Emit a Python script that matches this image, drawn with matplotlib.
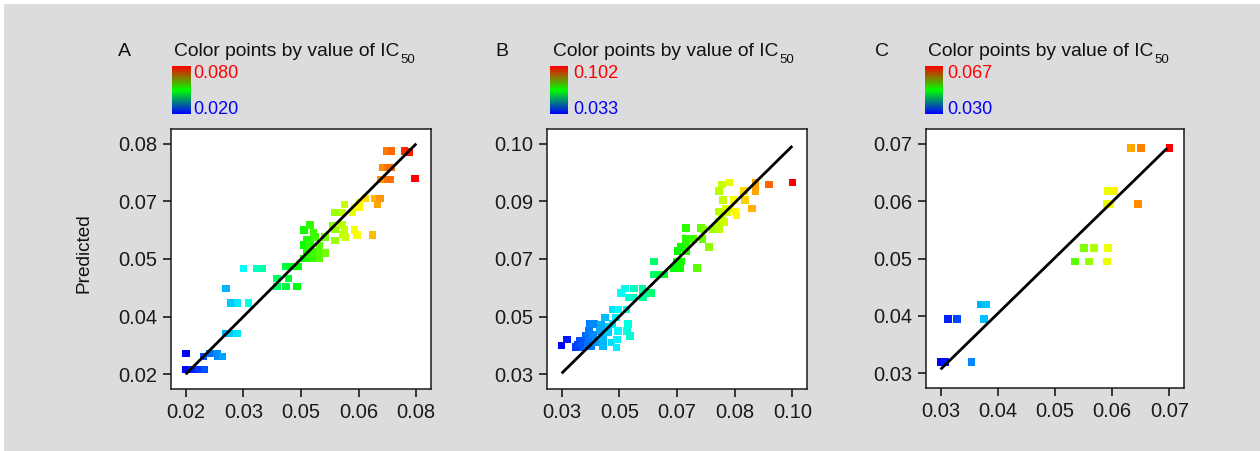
import colorsys
import numpy as np
import matplotlib
matplotlib.use("Agg")
import matplotlib.pyplot as plt
from matplotlib.colors import ListedColormap, LinearSegmentedColormap, Normalize
from matplotlib.patches import Rectangle

plt.rcParams['font.family'] = ['Liberation Sans', 'DejaVu Sans']

# ---------------- data ----------------
# Panel A
a_obs = [0.0201, 0.0199, 0.0216, 0.0234, 0.0249, 0.0246, 0.0263, 0.0281, 0.0283, 0.0296,
         0.0305, 0.0318, 0.0333, 0.0305, 0.0318, 0.0335, 0.0363, 0.0350, 0.0385, 0.0398,
         0.0438, 0.0467, 0.0438, 0.0461, 0.0490, 0.0461, 0.0476, 0.0492,
         0.0508, 0.0524, 0.0533, 0.0537, 0.0515, 0.0506, 0.0523, 0.0548, 0.0515, 0.0530,
         0.0548, 0.0564, 0.0506, 0.0522, 0.0530, 0.0548, 0.0563,
         0.0582, 0.0606, 0.0588, 0.0613, 0.0608, 0.0616, 0.0589, 0.0639, 0.0645, 0.0686,
         0.0589, 0.0613, 0.0608, 0.0634, 0.0639, 0.0652, 0.0652,
         0.0668, 0.0691, 0.0706, 0.0699,
         0.0707, 0.0727, 0.0731, 0.0714, 0.0727, 0.0734,
         0.0723, 0.0735, 0.0769, 0.0782, 0.0797]
a_pred = [0.0254, 0.0213, 0.0213, 0.0213, 0.0213, 0.0246, 0.0254, 0.0254, 0.0246, 0.0246,
          0.0306, 0.0306, 0.0306, 0.0423, 0.0386, 0.0386, 0.0386, 0.0475, 0.0475, 0.0475,
          0.0449, 0.0449, 0.0428, 0.0428, 0.0428, 0.0480, 0.0480, 0.0480,
          0.0575, 0.0588, 0.0569, 0.0558, 0.0549, 0.0536, 0.0538, 0.0534, 0.0518, 0.0518,
          0.0518, 0.0516, 0.0501, 0.0501, 0.0501, 0.0503, 0.0558,
          0.0586, 0.0588, 0.0577, 0.0575, 0.0564, 0.0558, 0.0548, 0.0575, 0.0563, 0.0563,
          0.0621, 0.0642, 0.0621, 0.0621, 0.0634, 0.0634, 0.0645,
          0.0657, 0.0657, 0.0657, 0.0642,
          0.0707, 0.0707, 0.0707, 0.0738, 0.0738, 0.0738,
          0.0781, 0.0781, 0.0781, 0.0779, 0.0709]

# Panel B
b_obs = [0.0300, 0.0316, 0.0343, 0.0355, 0.0365, 0.0373, 0.0383, 0.0385, 0.0398, 0.0383,
         0.0390, 0.0405, 0.0416, 0.0431, 0.0426, 0.0426, 0.0441, 0.0451, 0.0454, 0.0456,
         0.0471, 0.0464, 0.0466, 0.0471, 0.0468, 0.0497, 0.0502, 0.0499, 0.0507,
         0.0349, 0.0360, 0.0378, 0.0395, 0.0440, 0.0420,
         0.0480, 0.0492, 0.0520, 0.0545, 0.0504, 0.0516, 0.0546, 0.0546, 0.0572,
         0.0581, 0.0581, 0.0598, 0.0611,
         0.0648, 0.0664, 0.0641, 0.0659, 0.0711,
         0.0651, 0.0678, 0.0661, 0.0679,
         0.0678, 0.0699, 0.0727, 0.0748,
         0.0678, 0.0723, 0.0730, 0.0758, 0.0778,
         0.1001, 0.0930, 0.0888, 0.0888, 0.0888, 0.0854, 0.0857, 0.0878, 0.0809, 0.0787,
         0.0778, 0.0790, 0.0821, 0.0778, 0.0798, 0.0811, 0.0801, 0.0828, 0.0831, 0.0778,
         0.0793, 0.0787]
b_pred = [0.0388, 0.0406, 0.0383, 0.0401, 0.0383, 0.0416, 0.0431, 0.0452, 0.0452, 0.0401,
          0.0386, 0.0398, 0.0431, 0.0472, 0.0411, 0.0386, 0.0427, 0.0396, 0.0452, 0.0497,
          0.0497, 0.0472, 0.0381, 0.0431, 0.0406, 0.0497, 0.0452, 0.0431, 0.0416,
          0.0390, 0.0395, 0.0390, 0.0420, 0.0445, 0.0450,
          0.0546, 0.0561, 0.0561, 0.0561, 0.0533, 0.0533, 0.0548, 0.0533, 0.0546,
          0.0642, 0.0603, 0.0603, 0.0603,
          0.0642, 0.0642, 0.0622, 0.0622, 0.0622,
          0.0675, 0.0675, 0.0687, 0.0687,
          0.0710, 0.0710, 0.0710, 0.0687,
          0.0745, 0.0745, 0.0740, 0.0741, 0.0740,
          0.0882, 0.0876, 0.0882, 0.0869, 0.0856, 0.0857, 0.0830, 0.0803, 0.0882, 0.0876,
          0.0857, 0.0830, 0.0830, 0.0794, 0.0803, 0.0803, 0.0792, 0.0794, 0.0783, 0.0763,
          0.0763, 0.0775]

# Panel C
c_obs = [0.0700, 0.0633, 0.0650, 0.0645, 0.0592, 0.0604, 0.0590, 0.0597, 0.0551, 0.0568,
         0.0593, 0.0535, 0.0559, 0.0591, 0.0370, 0.0379, 0.0376, 0.0313, 0.0329, 0.0300,
         0.0308, 0.0354]
c_pred = [0.0692, 0.0692, 0.0692, 0.0595, 0.0617, 0.0617, 0.0595, 0.0595, 0.0518, 0.0518,
          0.0518, 0.0495, 0.0495, 0.0495, 0.0420, 0.0420, 0.0395, 0.0395, 0.0395, 0.0320,
          0.0320, 0.0320]

# fitted lines (end points)
a_line_x, a_line_y = [0.020, 0.080], [0.020, 0.080]
b_line_x, b_line_y = [0.030, 0.100], [0.0303, 0.0993]
c_line_x, c_line_y = [0.030, 0.0696], [0.0307, 0.0692]

# axis tick ranges and labels
a_range = (0.02, 0.08)
b_range = (0.03, 0.10)
c_range = (0.03, 0.07)
a_xticklabels = ["0.02", "0.03", "0.05", "0.06", "0.08"]
a_yticklabels = ["0.02", "0.04", "0.05", "0.07", "0.08"]
b_xticklabels = ["0.03", "0.05", "0.07", "0.08", "0.10"]
b_yticklabels = ["0.03", "0.05", "0.07", "0.09", "0.10"]
c_xticklabels = ["0.03", "0.04", "0.05", "0.06", "0.07"]
c_yticklabels = ["0.03", "0.04", "0.05", "0.06", "0.07"]

panel_letters = ["A", "B", "C"]
legend_max = ["0.080", "0.102", "0.067"]
legend_min = ["0.020", "0.033", "0.030"]
title_text = "Color points by value of IC"
title_sub = "50"
ylabel_text = "Predicted"

# ---------------- styling ----------------
W, H = 1260, 451
BG = "#dcdcde"

point_cmap = ListedColormap([colorsys.hsv_to_rgb((1 - t) * 2 / 3, 1, 1)
                             for t in np.linspace(0, 1, 256)])
legend_cmap = LinearSegmentedColormap.from_list("bgr", ["#0000ff", "#00ff00", "#ff0000"])

fig = plt.figure(figsize=(W / 100, H / 100), dpi=100, facecolor="white")
fig.patches.append(Rectangle((4 / W, 0), 1 - 4 / W, 1 - 4 / H, transform=fig.transFigure,
                             facecolor=BG, edgecolor="none", zorder=-10))


def fx(px):
    return px / W


def fy(py):
    return 1 - py / H


panels = [
    dict(obs=a_obs, pred=a_pred, lx=a_line_x, ly=a_line_y, rng=a_range,
         xt=a_xticklabels, yt=a_yticklabels, box=(171, 129, 431, 389),
         letter_x=118, title_x=174, bar=(172, 66, 190, 114), lab_x=193),
    dict(obs=b_obs, pred=b_pred, lx=b_line_x, ly=b_line_y, rng=b_range,
         xt=b_xticklabels, yt=b_yticklabels, box=(547, 129, 807, 389),
         letter_x=495, title_x=553, bar=(550, 66, 568, 114), lab_x=573),
    dict(obs=c_obs, pred=c_pred, lx=c_line_x, ly=c_line_y, rng=c_range,
         xt=c_xticklabels, yt=c_yticklabels, box=(926, 129, 1184, 388),
         letter_x=875, title_x=928, bar=(925, 66, 943, 114), lab_x=947),
]

renderer = fig.canvas.get_renderer()
for i, p in enumerate(panels):
    x0, y0, x1, y1 = p["box"]
    ax = fig.add_axes([fx(x0), fy(y1), (x1 - x0) / W, (y1 - y0) / H])
    ax.set_facecolor("white")
    lo, hi = p["rng"]
    pad = (hi - lo) * 0.0637
    ax.set_xlim(lo - pad, hi + pad)
    ax.set_ylim(lo - pad, hi + pad)
    ticks = np.linspace(lo, hi, 5)
    ax.set_xticks(ticks)
    ax.set_yticks(ticks)
    ax.set_xticklabels(p["xt"])
    ax.set_yticklabels(p["yt"])
    ax.tick_params(direction="out", length=6, width=1.2, labelsize=14.5, pad=4,
                   colors="#1a1a1a")
    for s in ax.spines.values():
        s.set_linewidth(1.1)
        s.set_color("#1a1a1a")
    norm = Normalize(min(p["obs"]), max(p["obs"]))
    ax.scatter(p["obs"], p["pred"], c=p["obs"], cmap=point_cmap, norm=norm,
               marker="s", s=30, linewidths=0, zorder=2)
    ax.plot(p["lx"], p["ly"], color="black", lw=2.0, zorder=3, solid_capstyle="butt")

    # header
    fig.text(fx(p["letter_x"]), fy(56.5), panel_letters[i], fontsize=14,
             color="#111111", va="baseline", ha="left")
    t = fig.text(fx(p["title_x"]), fy(56.5), title_text, fontsize=13.9,
                 color="#111111", va="baseline", ha="left")
    bb = t.get_window_extent(renderer=renderer)
    fig.text(bb.x1 / W + 1 / W, fy(63), title_sub, fontsize=9.5,
             color="#111111", va="baseline", ha="left")

    # colour legend bar
    bx0, by0, bx1, by1 = p["bar"]
    cax = fig.add_axes([fx(bx0), fy(by1), (bx1 - bx0) / W, (by1 - by0) / H])
    cax.imshow(np.linspace(0, 1, 128).reshape(-1, 1), cmap=legend_cmap, aspect="auto",
               origin="lower", extent=(0, 1, 0, 1))
    cax.set_axis_off()
    fig.text(fx(p["lab_x"]), fy(by0 - 1.5), legend_max[i], fontsize=13, color="#ff0000",
             va="top", ha="left")
    fig.text(fx(p["lab_x"]), fy(by1 + 0.5), legend_min[i], fontsize=13, color="#0000ff",
             va="baseline", ha="left")

fig.text(fx(84), fy(253), ylabel_text, fontsize=13.7, rotation=90, color="#111111",
         ha="center", va="center")

fig.savefig("out.png", dpi=100, facecolor=fig.get_facecolor())
